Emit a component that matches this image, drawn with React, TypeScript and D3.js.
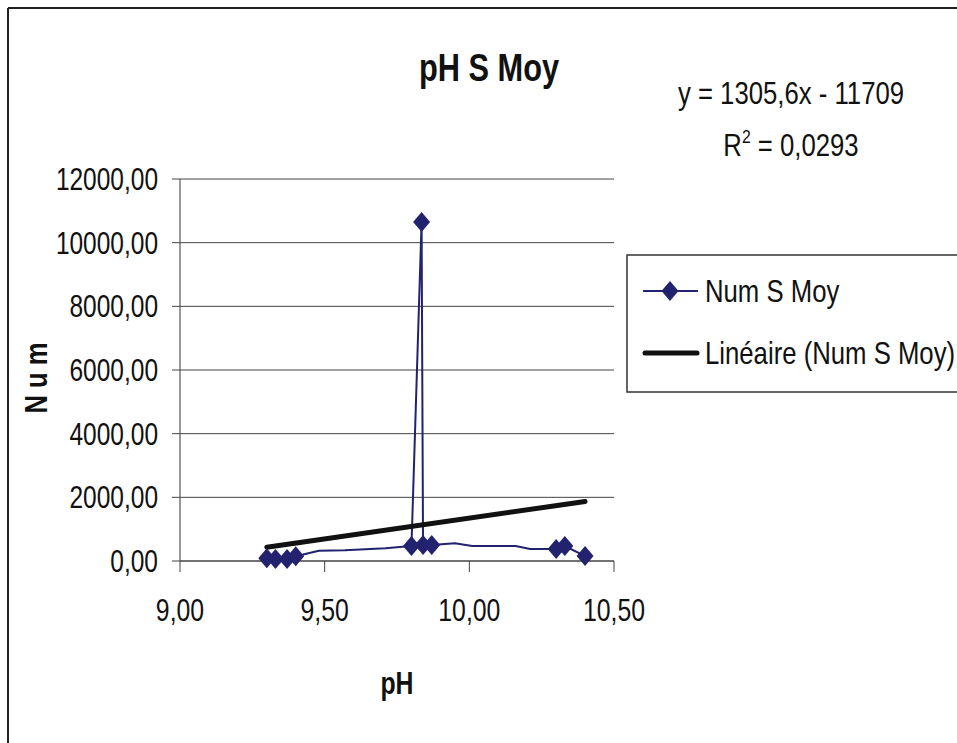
import React from "react";
import * as d3 from "d3";

// ---- data ----
const phValues = [9.3, 9.33, 9.37, 9.4, 9.48, 9.57, 9.71, 9.8, 9.835, 9.84, 9.87, 9.95, 10.01, 10.16, 10.21, 10.3, 10.33, 10.4];
const numValues = [90, 60, 60, 150, 320, 335, 400, 470, 10650, 500, 500, 555, 470, 470, 377, 377, 470, 157];
const markerShown = [true, true, true, true, false, false, false, true, true, true, true, false, false, false, false, true, true, true];
const xTicks = [9, 9.5, 10, 10.5];
const yTicks = [0, 2000, 4000, 6000, 8000, 10000, 12000];
const trendSlope = 1305.6;
const trendIntercept = -11709;
const titleText = "pH S Moy";
const xAxisTitle = "pH";
const yAxisTitle = "N u m";
const seriesName = "Num S Moy";
const trendName = "Linéaire (Num S Moy)";
const equationText = "y = 1305,6x - 11709";
const r2Value = "0,0293";

const NAVY = "#22226f";
const FONT = "'Liberation Sans', Arial, sans-serif";
const SX = 0.8;

const fmt = (v: number) => d3.format(".2f")(v).replace(".", ",");

export default function App() {
  const x = d3.scaleLinear().domain([9, 10.5]).range([180, 614]);
  const y = d3.scaleLinear().domain([0, 12000]).range([561, 179]);

  const pts = phValues.map((p, i) => ({ p, n: numValues[i], m: markerShown[i] }));
  const line = d3
    .line<{ p: number; n: number }>()
    .x((d) => x(d.p))
    .y((d) => y(d.n))
    .curve(d3.curveLinear);

  const xMin = d3.min(phValues) as number;
  const xMax = d3.max(phValues) as number;
  const trend = [xMin, xMax].map((p) => ({ p, n: trendSlope * p + trendIntercept }));
  const trendLine = d3
    .line<{ p: number; n: number }>()
    .x((d) => x(d.p))
    .y((d) => y(d.n));

  const diamond = "M0,-10 L8.5,0 L0,10 L-8.5,0 Z";
  const [x0, x1] = x.range();

  return (
    <svg
      width={957}
      height={743}
      style={{ position: "absolute", left: 0, top: 0, background: "#fff" }}
      fontFamily={FONT}
    >
      {/* outer chart frame */}
      <line x1={8} y1={8} x2={957} y2={8} stroke="#222" strokeWidth={2} />
      <line x1={8} y1={8} x2={8} y2={743} stroke="#222" strokeWidth={2} />

      {/* title */}
      <g transform={`translate(489,81) scale(${SX + 0.01},1)`}>
        <text textAnchor="middle" fontSize={38} fontWeight="bold" fill="#111">
          {titleText}
        </text>
      </g>

      {/* equation */}
      <g transform={`translate(791,104) scale(${SX + 0.03},1)`}>
        <text textAnchor="middle" fontSize={31} fill="#111">
          {equationText}
        </text>
      </g>
      <g transform={`translate(791,156) scale(${SX + 0.03},1)`}>
        <text textAnchor="middle" fontSize={31} fill="#111">
          R<tspan fontSize={19} dy={-13}>2</tspan>
          <tspan dy={13}> = {r2Value}</tspan>
        </text>
      </g>

      {/* gridlines */}
      {yTicks.map((t) => (
        <line key={"g" + t} x1={x0} x2={x1} y1={y(t)} y2={y(t)} stroke="#444" strokeWidth={1} />
      ))}

      {/* y axis */}
      <line x1={x0} x2={x0} y1={y(0)} y2={y(12000)} stroke="#555" strokeWidth={1.2} />
      {yTicks.map((t) => (
        <g key={"yt" + t}>
          <line x1={x0 - 8} x2={x0} y1={y(t)} y2={y(t)} stroke="#444" strokeWidth={1} />
          <g transform={`translate(158,${y(t)}) scale(${SX - 0.01},1)`}>
            <text textAnchor="end" dy="0.36em" fontSize={31} fill="#111">
              {fmt(t)}
            </text>
          </g>
        </g>
      ))}

      {/* x axis */}
      <line x1={x0} x2={x1} y1={y(0)} y2={y(0)} stroke="#444" strokeWidth={1.2} />
      {xTicks.map((t) => (
        <g key={"xt" + t}>
          <line x1={x(t)} x2={x(t)} y1={y(0)} y2={y(0) + 11} stroke="#444" strokeWidth={1} />
          <g transform={`translate(${x(t)},621) scale(${SX},1)`}>
            <text textAnchor="middle" fontSize={31} fill="#111">
              {fmt(t)}
            </text>
          </g>
        </g>
      ))}

      {/* axis titles */}
      <g transform={`translate(397,694) scale(${SX},1)`}>
        <text textAnchor="middle" fontSize={31} fontWeight="bold" fill="#111">
          {xAxisTitle}
        </text>
      </g>
      <g transform={`translate(47,378) rotate(-90) scale(${SX},1)`}>
        <text textAnchor="middle" fontSize={32} fontWeight="bold" fill="#111">
          {yAxisTitle}
        </text>
      </g>

      {/* series line */}
      <path d={line(pts) || ""} fill="none" stroke={NAVY} strokeWidth={2} strokeLinejoin="round" />

      {/* trend line */}
      <path d={trendLine(trend) || ""} fill="none" stroke="#111" strokeWidth={5} strokeLinecap="round" />

      {/* markers */}
      {pts
        .filter((d) => d.m)
        .map((d, i) => (
          <path key={"m" + i} d={diamond} transform={`translate(${x(d.p)},${y(d.n)})`} fill={NAVY} />
        ))}

      {/* legend */}
      <rect x={627} y={255} width={345} height={137} fill="#fff" stroke="#333" strokeWidth={1.5} />
      <line x1={643} x2={698} y1={291} y2={291} stroke={NAVY} strokeWidth={2} />
      <path d={diamond} transform="translate(670,291)" fill={NAVY} />
      <g transform={`translate(705,291) scale(${SX + 0.03},1)`}>
        <text dy="0.36em" fontSize={31} fill="#111">
          {seriesName}
        </text>
      </g>
      <line x1={645} x2={697} y1={353} y2={353} stroke="#111" strokeWidth={5} strokeLinecap="round" />
      <g transform={`translate(705,353) scale(${SX + 0.03},1)`}>
        <text dy="0.36em" fontSize={31} fill="#111">
          {trendName}
        </text>
      </g>
    </svg>
  );
}
